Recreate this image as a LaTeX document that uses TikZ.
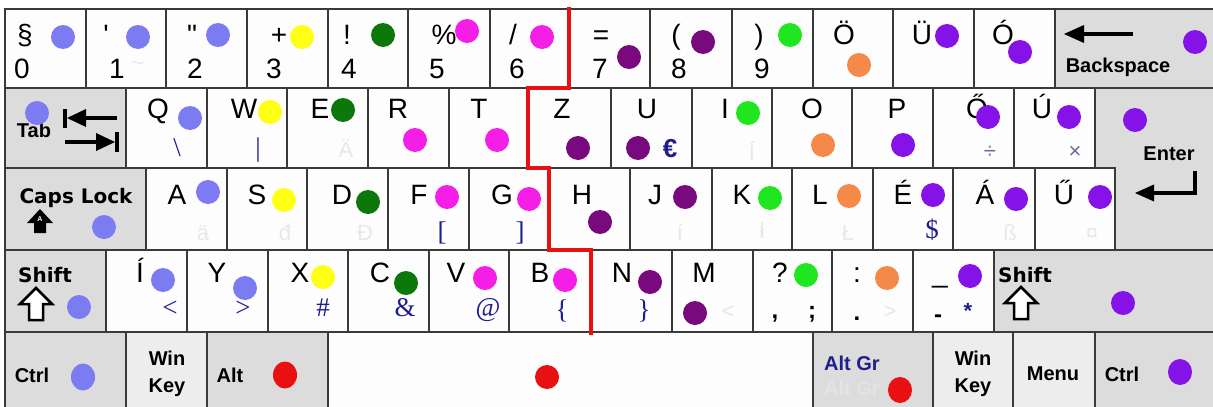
\documentclass[tikz,border=0pt]{standalone}
\usepackage{fontspec}
\setmainfont{Liberation Sans}
\newfontfamily\dvsans{DejaVu Sans}
\newfontfamily\lserif{Liberation Serif}
\definecolor{kbline}{HTML}{3A3A3A}
\definecolor{modgray}{HTML}{DCDCDC}
\definecolor{wingray}{HTML}{EDEDED}
\definecolor{keywhite}{HTML}{FDFDFD}
\definecolor{altblue}{HTML}{1E1E8C}
\definecolor{greyblue}{HTML}{6A6A9A}
\definecolor{faintc}{HTML}{E8E8E8}
\definecolor{faintg}{HTML}{E4E4E4}
\definecolor{cLB}{HTML}{7B7BF2}
\definecolor{cYE}{HTML}{FFFF14}
\definecolor{cDG}{HTML}{0C780C}
\definecolor{cMG}{HTML}{F51EE6}
\definecolor{cDP}{HTML}{780A7E}
\definecolor{cBG}{HTML}{20E620}
\definecolor{cOR}{HTML}{F5894A}
\definecolor{cVI}{HTML}{8512E6}
\definecolor{cRD}{HTML}{E81010}
\begin{document}
\begin{tikzpicture}[x=1pt,y=-1pt,
  keyline/.style={draw=kbline,line width=1.5pt},
  main/.style={font=\fontsize{28}{28}\selectfont,inner sep=0pt,anchor=base},
  modl/.style={font=\bfseries\fontsize{20}{20}\selectfont,inner sep=0pt,anchor=base},
  modd/.style={font=\dvsans\bfseries\fontsize{20}{20}\selectfont,inner sep=0pt,anchor=base},
  altc/.style={font=\lserif\fontsize{27}{27}\selectfont,text=altblue,inner sep=0pt,anchor=base},
  fnt/.style={font=\fontsize{22}{22}\selectfont,text=faintc,inner sep=0pt,anchor=base},
  redline/.style={draw=cRD,line width=4.5pt,line join=miter},
  arr/.style={line width=4.5pt},
  dotm/.style={radius=12pt}]
\useasboundingbox (0,0) rectangle (1213,407);
\fill[white] (0,0) rectangle (1213,407);
% ---------- keys ----------
% row 1
\foreach \a/\b in {5/86,86/166,166/247,247/328,328/408,408/490,490/570,570/650,650/732,732/813,813/893,893/974,974/1055}
  \draw[keyline,fill=keywhite] (\a,9) rectangle (\b,88);
\draw[keyline,fill=modgray] (1055,9) rectangle (1216,88);
% row 2
\draw[keyline,fill=modgray] (5,88) rectangle (126,168);
\foreach \a/\b in {126/207,207/287,287/368,368/449,449/527,527/611,611/692,692/772,772/852,852/933,933/1014,1014/1095}
  \draw[keyline,fill=keywhite] (\a,88) rectangle (\b,168);
\draw[keyline,fill=modgray] (1095,88) -- (1216,88) -- (1216,250) -- (1115,250) -- (1115,168) -- (1095,168) -- cycle;
% row 3
\draw[keyline,fill=modgray] (5,168) rectangle (146,250);
\foreach \a/\b in {146/227,227/307,307/388,388/469,469/548,548/630,630/712,712/792,792/873,873/953,953/1035,1035/1115}
  \draw[keyline,fill=keywhite] (\a,168) rectangle (\b,250);
% row 4
\draw[keyline,fill=modgray] (5,250) rectangle (106,332);
\foreach \a/\b in {106/187,187/268,268/348,348/429,429/509,509/590,590/672,672/753,753/832,832/913,913/994}
  \draw[keyline,fill=keywhite] (\a,250) rectangle (\b,332);
\draw[keyline,fill=modgray] (994,250) rectangle (1216,332);
% row 5
\draw[keyline,fill=modgray] (5,332) rectangle (126,410);
\draw[keyline,fill=wingray] (126,332) rectangle (207,410);
\draw[keyline,fill=modgray] (207,332) rectangle (328,410);
\draw[keyline,fill=keywhite] (328,332) rectangle (813,410);
\draw[keyline,fill=modgray] (813,332) rectangle (933,410);
\draw[keyline,fill=wingray] (933,332) rectangle (1013,410);
\draw[keyline,fill=wingray] (1013,332) rectangle (1095,410);
\draw[keyline,fill=modgray] (1095,332) rectangle (1216,410);
% ---------- red separator ----------
\draw[redline] (569,7) -- (569,88) -- (528,88) -- (528,168) -- (549,168) -- (549,250) -- (591,250) -- (591,335);
% ---------- faint AltGr characters ----------
\node[fnt] (f1) at (138,70) {\textasciitilde};
\node[fnt] (fE) at (346,157) {Ä};
\node[fnt] (fI) at (752,160) {Í};
\node[fnt] (fA) at (203,240) {ä};
\node[fnt] (fS) at (285,240) {đ};
\node[fnt] (fD) at (365,240) {Đ};
\node[fnt] (fJ) at (680,240) {í};
\node[fnt] (fK) at (762,238) {ł};
\node[fnt] (fL) at (848,240) {Ł};
\node[fnt] (fAA) at (1010,240) {ß};
\node[fnt] (fUU) at (1092,240) {¤};
\node[fnt] (fM) at (728,318) {<};
\node[fnt] (fPt) at (890,318) {>};
\node[fnt,text=faintg,font=\bfseries\fontsize{20}{20}\selectfont] (fAG) at (852,395) {Alt Gr};
% ---------- row 1 labels ----------
\node[main] (t0) at (25,44) {§};
\node[main] (t1) at (106,44) {\textquotesingle};
\node[main] (t2) at (192,44) {\textquotedbl};
\node[main] (t3) at (279,44) {+};
\node[main] (t4) at (347,44) {!};
\node[main] (t5) at (444,44) {\%};
\node[main] (t6) at (513,44) {/};
\node[main] (t7) at (601,44) {=};
\node[main] (t8) at (676,44) {(};
\node[main] (t9) at (759,44) {)};
\node[main] (tOe) at (844,44) {Ö};
\node[main] (tUe) at (922,44) {Ü};
\node[main] (tOa) at (1003,44) {Ó};
\node[main] (d0) at (22,78) {0};
\node[main] (d1) at (117,78) {1};
\node[main] (d2) at (195,78) {2};
\node[main] (d3) at (274,78) {3};
\node[main] (d4) at (349,78) {4};
\node[main] (d5) at (437,78) {5};
\node[main] (d6) at (517,78) {6};
\node[main] (d7) at (600,78) {7};
\node[main] (d8) at (679,78) {8};
\node[main] (d9) at (762,78) {9};
\node[modl] (bsp) at (1118,72) {Backspace};
% ---------- row 2 labels ----------
\node[modl] (tab) at (34,137) {Tab};
\node[main] (kQ) at (158,118) {Q};
\node[main] (kW) at (244,118) {W};
\node[main] (kE) at (320,118) {E};
\node[main] (kR) at (398,118) {R};
\node[main] (kT) at (479,118) {T};
\node[main] (kZ) at (562,118) {Z};
\node[main] (kU) at (647,118) {U};
\node[main] (kI) at (725,118) {I};
\node[main] (kO) at (812,118) {O};
\node[main] (kP) at (897,118) {P};
\node[main] (kOO) at (977,118) {Ő};
\node[main] (kUU) at (1042,118) {Ú};
\node[altc] (aQ) at (177,156) {\textbackslash};
\node[altc] (aW) at (258,156) {\textbar};
\node[altc,font=\bfseries\fontsize{26}{26}\selectfont] (aU) at (670,157) {€};
\node[altc,text=greyblue,font=\fontsize{22}{22}\selectfont] (aOO) at (990,158) {÷};
\node[altc,text=greyblue,font=\fontsize{22}{22}\selectfont] (aUU) at (1075,158) {×};
\node[modl] (ent) at (1169,160) {Enter};
% ---------- row 3 labels ----------
\node[modd] (caps) at (76,203) {Caps Lock};
\node[main] (kA) at (177,204) {A};
\node[main] (kS) at (257,204) {S};
\node[main] (kD) at (342,204) {D};
\node[main] (kF) at (419,204) {F};
\node[main] (kG) at (502,204) {G};
\node[main] (kH) at (582,204) {H};
\node[main] (kJ) at (655,204) {J};
\node[main] (kK) at (742,204) {K};
\node[main] (kL) at (820,204) {L};
\node[main] (kEE) at (903,204) {É};
\node[main] (kAA) at (985,204) {Á};
\node[main] (kUUU) at (1064,204) {Ű};
\node[altc] (aF) at (442,240) {[};
\node[altc] (aG) at (520,240) {]};
\node[altc] (aEE) at (932,238) {\$};
% ---------- row 4 labels ----------
\node[modd] (shl) at (45,282) {Shift};
\node[main] (kII) at (140,282) {Í};
\node[main] (kY) at (217,282) {Y};
\node[main] (kX) at (300,282) {X};
\node[main] (kC) at (380,282) {C};
\node[main] (kV) at (456,282) {V};
\node[main] (kB) at (540,282) {B};
\node[main] (kN) at (622,282) {N};
\node[main] (kM) at (704,282) {M};
\node[main] (kq) at (780,282) {?};
\node[main] (kcol) at (857,282) {:};
\node[main] (kus) at (940,282) {\_};
\node[modd] (shr) at (1025,282) {Shift};
\node[altc] (aII) at (170,316) {<};
\node[altc] (aY) at (243,316) {>};
\node[altc] (aX) at (323,316) {\#};
\node[altc] (aC) at (405,316) {\&};
\node[altc] (aV) at (488,316) {@};
\node[altc] (aB) at (562,318) {\{};
\node[altc] (aN) at (644,318) {\}};
\node[main,font=\bfseries\fontsize{24}{24}\selectfont] (kcom) at (775,318) {,};
\node[main,font=\bfseries\fontsize{24}{24}\selectfont] (ksem) at (812,318) {;};
\node[main,font=\bfseries\fontsize{24}{24}\selectfont] (kdot) at (857,320) {.};
\node[main,font=\bfseries\fontsize{24}{24}\selectfont] (kmin) at (938,322) {-};
\node[altc,font=\bfseries\fontsize{22}{22}\selectfont] (ast) at (968,318) {*};
% ---------- row 5 labels ----------
\node[modl] (ctl) at (32,382) {Ctrl};
\node[modl] (winl1) at (167,365) {Win};
\node[modl] (winl2) at (167,392) {Key};
\node[modl] (altl) at (230,382) {Alt};
\node[modl,text=altblue] (altgr) at (852,370) {Alt Gr};
\node[modl] (winr1) at (973,365) {Win};
\node[modl] (winr2) at (973,392) {Key};
\node[modl] (menu) at (1053,380) {Menu};
\node[modl] (ctr) at (1122,381) {Ctrl};
% ---------- modifier symbols ----------
% backspace arrow
\draw[arr] (1080,34) -- (1133,34);
\fill (1064,34) -- (1084,25) -- (1084,43) -- cycle;
% tab arrows
\draw[line width=3.5pt] (80,118) -- (117,118);
\fill (67,118) -- (86,109) -- (86,127) -- cycle;
\draw[line width=3.5pt] (65,109) -- (65,128);
\draw[line width=3.5pt] (65,142) -- (102,142);
\fill (115,142) -- (96,133) -- (96,151) -- cycle;
\draw[line width=3.5pt] (117,132) -- (117,152);
% enter arrow
\draw[arr] (1195,171) -- (1195,193) -- (1150,193);
\fill (1135,193) -- (1154,184.5) -- (1154,201.5) -- cycle;
% caps lock arrow
\fill (40,209) -- (53,223) -- (46,223) -- (46,233) -- (34,233) -- (34,223) -- (27,223) -- cycle;
\node[inner sep=0pt,text=white,font=\bfseries\fontsize{7}{7}\selectfont] (capsA) at (40,219) {A};
% shift arrows
\draw[line width=2.5pt,fill=white,line join=miter] (36,288) -- (52,304) -- (43,304) -- (43,320) -- (29,320) -- (29,304) -- (20,304) -- cycle;
\draw[line width=2.5pt,fill=white,line join=miter] (1021,287) -- (1037,303) -- (1028,303) -- (1028,319) -- (1014,319) -- (1014,303) -- (1005,303) -- cycle;
% ---------- dots ----------
\foreach \x/\y in {63/37,138/37,218/35,37/113,190/118,104/227,208/192,79/307,163/280,245/288}
  \fill[cLB] (\x,\y) circle[dotm];
\fill[cLB] (83,377) ellipse[x radius=12pt,y radius=13.5pt];
\foreach \x/\y in {302/37,270/112,284/200,323/277}
  \fill[cYE] (\x,\y) circle[dotm];
\foreach \x/\y in {383/35,343/110,368/202,406/283}
  \fill[cDG] (\x,\y) circle[dotm];
\foreach \x/\y in {467/31,542/37,415/140,497/140,447/197,529/199,485/278,565/280}
  \fill[cMG] (\x,\y) circle[dotm];
\foreach \x/\y in {629/57,703/42,578/148,638/148,600/222,685/197,650/282,695/313}
  \fill[cDP] (\x,\y) circle[dotm];
\foreach \x/\y in {790/35,748/113,770/198,806/275}
  \fill[cBG] (\x,\y) circle[dotm];
\foreach \x/\y in {859/65,823/145,849/196,887/278}
  \fill[cOR] (\x,\y) circle[dotm];
\foreach \x/\y in {947/36,1020/52,1195/42,903/145,988/117,1069/117,1135/120,933/195,1016/199,1100/197,970/276,1123/303}
  \fill[cVI] (\x,\y) circle[dotm];
\fill[cVI] (1180,372) ellipse[x radius=12pt,y radius=13pt];
\fill[cRD] (285,375) ellipse[x radius=12pt,y radius=13.5pt];
\fill[cRD] (547,377) circle[dotm];
\fill[cRD] (900,390) ellipse[x radius=12pt,y radius=13pt];
\end{tikzpicture}
\end{document}
